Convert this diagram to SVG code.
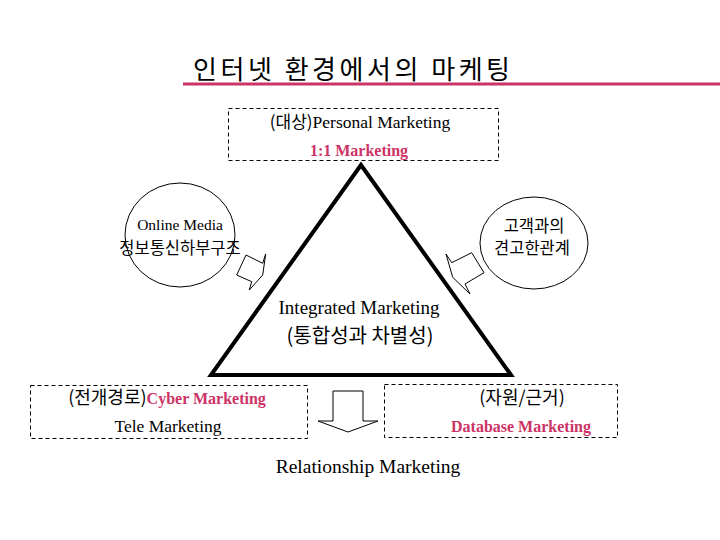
<svg xmlns="http://www.w3.org/2000/svg" width="720" height="540" viewBox="0 0 720 540">
<style>
.k{font-family:"Noto Sans CJK KR","Noto Sans",sans-serif;fill:#000}
.s{font-family:"Liberation Serif","Times New Roman",serif;fill:#000}
.b{font-weight:bold}
.m{fill:#CC3366}
.box{fill:none;stroke:#000;stroke-width:1;stroke-dasharray:4,3}
.ol{fill:#fff;stroke:#000;stroke-width:1}
</style>
<rect width="720" height="540" fill="#fff"/>
<g id="title">
<text class="k" x="193" y="79" font-size="26" textLength="317" lengthAdjust="spacing">인터넷 환경에서의 마케팅</text>
<line x1="183" y1="84" x2="720" y2="84" stroke="#CC3366" stroke-width="3"/>
</g>
<g id="connectors">
<polygon points="361,165 211,375 511,375" fill="none" stroke="#000" stroke-width="4" stroke-linejoin="miter"/>
<polygon class="ol" points="246,255 262.7,263.3 265.7,254 262.7,275 249.3,290 251.7,281.7 236.7,275"/>
<polygon class="ol" points="446,254 451.7,262.7 471.7,252.7 484,272.7 465,284 470,294 452.7,277.3"/>
<polygon class="ol" points="333,391 363,391 363,421 378,421 348,432 318,421 333,421"/>
</g>
<g id="top">
<rect class="box" x="228.5" y="108.5" width="270" height="52"/>
<text x="360" y="128" text-anchor="middle"><tspan class="k" font-size="17">(대상)</tspan><tspan class="s" font-size="17.5">Personal Marketing</tspan></text>
<text class="s b m" x="359" y="156" font-size="16" text-anchor="middle">1:1 Marketing</text>
</g>
<g id="left">
<ellipse class="ol" cx="180" cy="235" rx="55" ry="52"/>
<text class="s" x="180" y="230" font-size="15.5" text-anchor="middle">Online Media</text>
<text class="k" x="180" y="254" font-size="16.5" text-anchor="middle">정보통신하부구조</text>
</g>
<g id="right">
<ellipse class="ol" cx="534" cy="243" rx="54" ry="46"/>
<text class="k" x="534" y="232" font-size="16.5" text-anchor="middle">고객과의</text>
<text class="k" x="532" y="254" font-size="16.5" text-anchor="middle">견고한관계</text>
</g>
<g id="center">
<text class="s" x="359" y="314" font-size="19" text-anchor="middle">Integrated Marketing</text>
<text class="k" x="360" y="343" font-size="20" text-anchor="middle">(통합성과 차별성)</text>
</g>
<g id="bottomleft">
<rect class="box" x="30.5" y="385.5" width="277" height="53"/>
<text x="167" y="404" text-anchor="middle"><tspan class="k" font-size="18">(전개경로)</tspan><tspan class="s b m" font-size="16">Cyber Marketing</tspan></text>
<text class="s" x="168" y="432" font-size="17.5" text-anchor="middle">Tele Marketing</text>
</g>
<g id="bottomright">
<rect class="box" x="384.5" y="384.5" width="233" height="53"/>
<text class="k" x="522" y="404" font-size="18" text-anchor="middle">(자원/근거)</text>
<text class="s b m" x="521" y="432" font-size="16" text-anchor="middle">Database Marketing</text>
</g>
<g id="result">
<text class="s" x="368" y="473" font-size="19.5" text-anchor="middle">Relationship Marketing</text>
</g>
</svg>
